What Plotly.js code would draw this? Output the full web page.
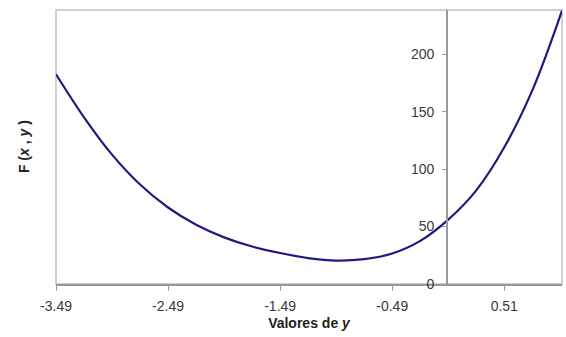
<!DOCTYPE html>
<html>
<head>
<meta charset="utf-8">
<script src="https://cdn.plot.ly/plotly-3.0.1.min.js"></script>
<style>html,body{margin:0;padding:0;background:#fff;}#chart{width:566px;height:337px;}</style>
</head>
<body>
<div id="chart"></div>
<script>
// Values of y (x-axis) and F(x, y)
const yValues = [-3.49, -3.24, -2.99, -2.74, -2.49, -2.24, -1.99, -1.74, -1.49, -1.24, -0.99, -0.74, -0.49, -0.24, 0.01, 0.26, 0.51, 0.76, 1.025];
const fValues = [182.6, 145.1, 112.6, 86.6, 66.6, 51.6, 40.6, 32.6, 27.0, 22.6, 20.4, 21.6, 26.5, 37.5, 56.0, 81.5, 119.0, 168.5, 238.0];
const xTickVals = [-3.49, -2.49, -1.49, -0.49, 0.51];
const xTickText = ["-3.49", "-2.49", "-1.49", "-0.49", "0.51"];
const yTickVals = [0, 50, 100, 150, 200];

const xRange = [-3.49, 1.025];
const yRange = [0, 238.5];
const yAxisPos = (0 - xRange[0]) / (xRange[1] - xRange[0]);

const FONT = "Liberation Sans, Arial, sans-serif";
const tickFont = {family: FONT, size: 14, color: "#3a3a3a"};

const trace = {
  x: yValues, y: fValues, type: "scatter", mode: "lines",
  line: {color: "#1c1c80", width: 2.2, shape: "spline", smoothing: 1},
  hoverinfo: "skip"
};

const layout = {
  width: 566, height: 337,
  margin: {l: 56, r: 4, t: 10, b: 53},
  paper_bgcolor: "#fff", plot_bgcolor: "#fff",
  showlegend: false,
  xaxis: {
    range: xRange, tickvals: xTickVals, ticktext: xTickText,
    showgrid: false, zeroline: false,
    showline: true, linecolor: "#999", linewidth: 1.5,
    ticks: "outside", ticklen: 5, tickcolor: "#999",
    tickfont: tickFont, ticklabelstandoff: 4,
    title: {text: "<b>Valores de <i>y</i></b>", font: {family: FONT, size: 14, color: "#222"}, standoff: 5}
  },
  yaxis: {
    range: yRange, tickvals: yTickVals,
    anchor: "free", position: yAxisPos, side: "left",
    showgrid: false, zeroline: false,
    showline: true, linecolor: "#999", linewidth: 2,
    ticks: "outside", ticklen: 4, tickcolor: "#999",
    tickfont: tickFont, ticklabelstandoff: 5
  },
  shapes: [{
    type: "rect", xref: "paper", yref: "paper", x0: 0, x1: 1, y0: 0, y1: 1,
    line: {color: "#d0d0d0", width: 2}, layer: "below"
  }],
  annotations: [{
    xref: "paper", yref: "paper", x: -0.063, y: 0.5,
    xanchor: "center", yanchor: "middle", textangle: -90, showarrow: false,
    text: "<b>F (<i>x</i> , <i>y</i> )</b>",
    font: {family: FONT, size: 14, color: "#222"}
  }]
};

Plotly.newPlot("chart", [trace], layout, {displayModeBar: false, staticPlot: true});
</script>
</body>
</html>
